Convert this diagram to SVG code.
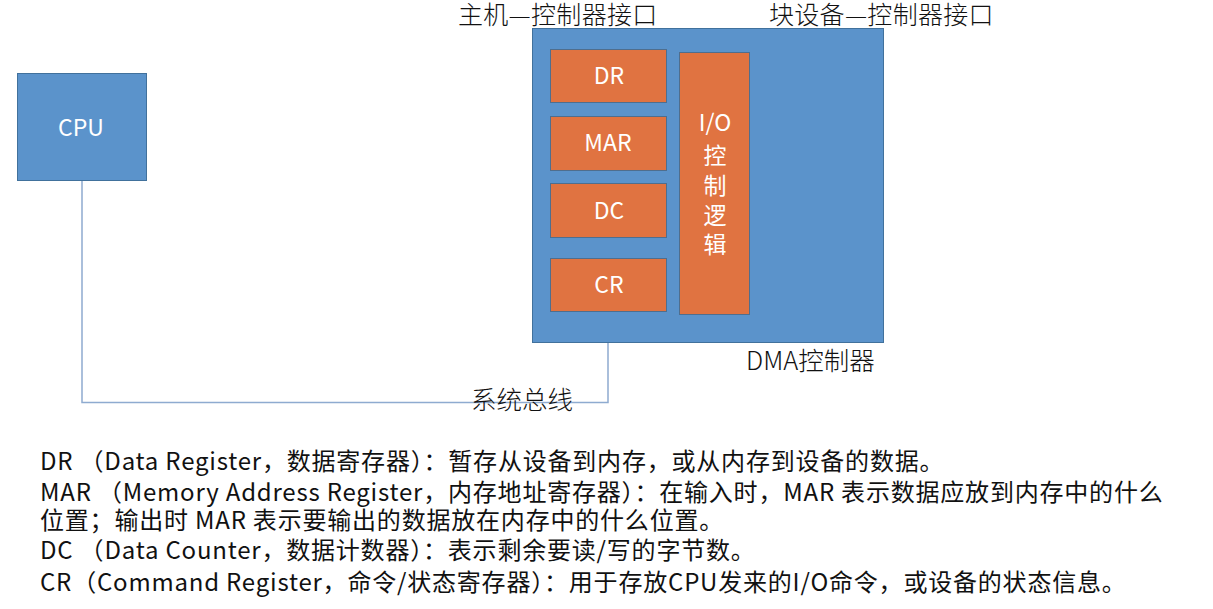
<svg xmlns="http://www.w3.org/2000/svg" width="1213" height="609" viewBox="0 0 1213 609">
<style>
  text { font-family: "Noto Sans CJK SC", "Liberation Sans", sans-serif; }
  .box { fill: #5b93cb; stroke: #41719c; stroke-width: 1; }
  .reg { fill: #e07341; stroke: #4f6e8e; stroke-width: 1; }
  .wt { fill: #ffffff; font-size: 23px; text-anchor: middle; }
  .cj { fill: #ffffff; font-size: 23px; text-anchor: middle; }
  .lbl { fill: #111111; font-size: 25.5px; font-weight: 300; }
  .hdr { fill: #111111; font-size: 25px; font-weight: 300; letter-spacing: 0.3px; }
  .desc { fill: #111111; font-size: 24px; letter-spacing: 0.8px; }
  .wire { fill: none; stroke: #8eabd0; stroke-width: 1.5; }
</style>
<rect width="1213" height="609" fill="#ffffff"/>
<g id="connectors">
  <path class="wire" d="M82,181 V402.5 H608 V343"/>
</g>
<g id="cpu">
  <rect class="box" x="17.5" y="73.5" width="129" height="107"/>
  <text class="wt" x="81" y="136">CPU</text>
</g>
<g id="dma">
  <rect class="box" x="532.5" y="28.5" width="351" height="314"/>
</g>
<g id="dr">
  <rect class="reg" x="550.5" y="49.5" width="116" height="53"/>
  <text class="wt" x="609" y="84">DR</text>
</g>
<g id="mar">
  <rect class="reg" x="550.5" y="116.5" width="116" height="54"/>
  <text class="wt" x="608" y="151">MAR</text>
</g>
<g id="dc">
  <rect class="reg" x="550.5" y="183.5" width="116" height="54"/>
  <text class="wt" x="609" y="219">DC</text>
</g>
<g id="cr">
  <rect class="reg" x="550.5" y="258.5" width="116" height="53"/>
  <text class="wt" x="609" y="293">CR</text>
</g>
<g id="io">
  <rect class="reg" x="679.5" y="52.5" width="70" height="262"/>
  <text class="wt" x="715" y="131">I/O</text>
  <text class="cj" x="715" y="164">控</text>
  <text class="cj" x="715" y="194">制</text>
  <text class="cj" x="715" y="224">逻</text>
  <text class="cj" x="715" y="253">辑</text>
</g>
<g id="labels">
  <text class="hdr" x="458" y="24">主机—控制器接口</text>
  <text class="hdr" x="769" y="24">块设备—控制器接口</text>
  <text class="lbl" x="746" y="370">DMA控制器</text>
  <text class="lbl" x="471" y="409">系统总线</text>
</g>
<g id="notes">
  <text class="desc" x="40" y="470">DR （Data Register，数据寄存器）：暂存从设备到内存，或从内存到设备的数据。</text>
  <text class="desc" x="40" y="501">MAR （Memory Address Register，内存地址寄存器）：在输入时，MAR 表示数据应放到内存中的什么</text>
  <text class="desc" x="40" y="529">位置；输出时 MAR 表示要输出的数据放在内存中的什么位置。</text>
  <text class="desc" x="40" y="559">DC （Data Counter，数据计数器）：表示剩余要读/写的字节数。</text>
  <text class="desc" x="40" y="591">CR（Command Register，命令/状态寄存器）：用于存放CPU发来的I/O命令，或设备的状态信息。</text>
</g>
</svg>
